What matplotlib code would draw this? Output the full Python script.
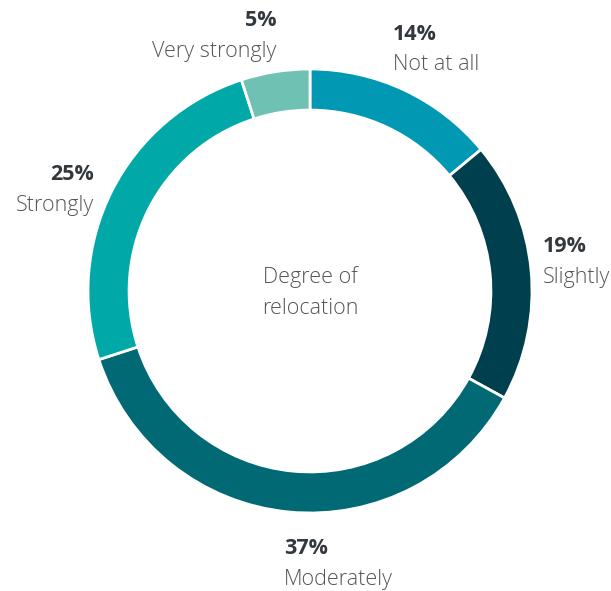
import matplotlib.pyplot as plt

# Distribution of responses, clockwise from the top
categories = ["Not at all", "Slightly", "Moderately", "Strongly", "Very strongly"]
shares = [14, 19, 37, 25, 5]
colors = ["#0098B2", "#00404E", "#006974", "#00A9A7", "#6FC1B4"]

W, H = 611, 591
fig = plt.figure(figsize=(W / 100, H / 100), dpi=100)
ax = fig.add_axes([0, 0, 1, 1])

cx, cy, r = 310, H - 291, 222
ax.pie(shares, colors=colors, startangle=90, counterclock=False,
       center=(cx, cy), radius=r, frame=True,
       wedgeprops=dict(width=r * 0.185, edgecolor="white", linewidth=2))
ax.set_xlim(0, W)
ax.set_ylim(0, H)
ax.set_aspect("equal")
ax.axis("off")

pct_color = "#33383d"
lab_color = "#555555"
fs = 15.5

# label anchors: (x, y of percent line, horizontal alignment) in pixel space
anchors = {
    "Not at all": (393, 34, "left"),
    "Slightly": (543, 247, "left"),
    "Moderately": (284, 548, "left"),
    "Strongly": (94, 174, "right"),
    "Very strongly": (276, 20, "right"),
}
for cat, val in zip(categories, shares):
    x, y, ha = anchors[cat]
    ax.text(x, H - y, f"{val}%", ha=ha, va="center", fontsize=fs,
            fontweight="bold", color=pct_color, family="Open Sans")
    ax.text(x, H - y - 31, cat, ha=ha, va="center", fontsize=fs,
            fontweight="light", color=lab_color, family="Open Sans")

ax.text(cx, H - 277, "Degree of", ha="center", va="center", fontsize=fs,
        fontweight="light", color=lab_color, family="Open Sans")
ax.text(cx, H - 308, "relocation", ha="center", va="center", fontsize=fs,
        fontweight="light", color=lab_color, family="Open Sans")

fig.savefig("out.png", dpi=100)
